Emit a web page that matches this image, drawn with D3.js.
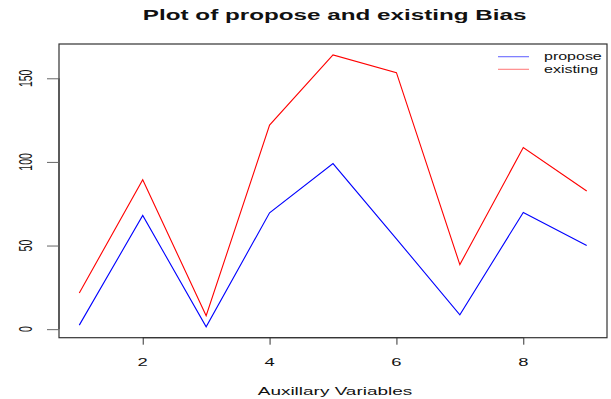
<!DOCTYPE html>
<html>
<head>
<meta charset="utf-8">
<script src="https://cdn.jsdelivr.net/npm/d3@7"></script>
<style>
  html, body { margin: 0; padding: 0; background: #fff; }
  svg { display: block; }
  text { font-family: "Liberation Sans", Arial, Helvetica, sans-serif; fill: #111; }
</style>
</head>
<body>
<svg id="chart" width="611" height="399"></svg>
<script>
// ---- data ----
const xValues = [1, 2, 3, 4, 5, 6, 7, 8, 9];
const propose = [2.4, 68, 1.4, 69.6, 99, 54, 8.6, 69.8, 50];
const existing = [21.6, 89.4, 8, 122, 164, 153.4, 38.6, 108.6, 82.6];
const xTicks = [2, 4, 6, 8];
const yTicks = [0, 50, 100, 150];
const seriesNames = ["propose", "existing"];
const seriesColors = ["#0000ff", "#ff0000"];
const legendColors = ["#6a6aff", "#ff8080"];
const titleText = "Plot of propose and existing Bias";
const xLabel = "Auxillary Variables";

// ---- layout ----
const svg = d3.select("#chart");
const box = { left: 59, right: 607, top: 44, bottom: 337.7 };
const SX = 1.65; // horizontal glyph stretch seen in reference

// R-style 4% axis extension
function pad(ext) { const d = (ext[1] - ext[0]) * 0.04; return [ext[0] - d, ext[1] + d]; }
const xDom = pad(d3.extent(xValues));
const yDom = pad(d3.extent(propose.concat(existing)));

const x = d3.scaleLinear().domain(xDom).range([box.left, box.right]);
const y = d3.scaleLinear().domain(yDom).range([box.bottom, box.top]);

function stretchedText(g, tx, ty, str, size, weight, anchor, sx) {
  return g.append("text")
    .attr("transform", `translate(${tx},${ty}) scale(${sx || SX},1)`)
    .attr("text-anchor", anchor || "middle")
    .style("font-size", size + "px")
    .style("font-weight", weight || "normal")
    .text(str);
}

// title
stretchedText(svg, 334.7, 20, titleText, 14.6, "bold", "middle", 1.66);

// series lines
const line = d3.line().x((d, i) => x(xValues[i])).y(d => y(d));
[propose, existing].forEach((s, k) => {
  svg.append("path")
    .datum(s)
    .attr("d", line)
    .attr("fill", "none")
    .attr("stroke", seriesColors[k])
    .attr("stroke-width", 1.1);
});

// plot box
svg.append("rect")
  .attr("x", box.left).attr("y", box.top)
  .attr("width", box.right - box.left).attr("height", box.bottom - box.top)
  .attr("fill", "none").attr("stroke", "#333").attr("stroke-width", 1.2);

// x axis
const xAxis = svg.append("g").attr("transform", `translate(0,${box.bottom})`);
xAxis.call(d3.axisBottom(x).tickValues(xTicks).tickSize(7).tickFormat(""));
xAxis.select(".domain").attr("d", `M${x(xTicks[0])},0H${x(xTicks[xTicks.length-1])}`).attr("stroke", "#333");
xAxis.selectAll(".tick line").attr("stroke", "#333");
xTicks.forEach(t => stretchedText(svg, x(t), 365.5, String(t), 11.5, "normal", "middle", 1.6));

// y axis
const yAxis = svg.append("g").attr("transform", `translate(${box.left},0)`);
yAxis.call(d3.axisLeft(y).tickValues(yTicks).tickSize(12).tickFormat(""));
yAxis.select(".domain").attr("d", `M0,${y(yTicks[0])}V${y(yTicks[yTicks.length-1])}`).attr("stroke", "#333");
yAxis.selectAll(".tick line").attr("stroke", "#666");
yTicks.forEach(t => {
  svg.append("text")
    .attr("transform", `translate(32,${y(t)}) scale(1.7,1) rotate(-90)`)
    .attr("text-anchor", "middle")
    .style("font-size", "10.5px")
    .text(String(t));
});

// x label
stretchedText(svg, 335, 395, xLabel, 11.5);

// legend
const legY = [56.7, 69.3];
seriesNames.forEach((n, k) => {
  svg.append("line")
    .attr("x1", 498).attr("x2", 529)
    .attr("y1", legY[k]).attr("y2", legY[k])
    .attr("stroke", legendColors[k]).attr("stroke-width", 1.1);
  stretchedText(svg, 544, legY[k] + 3.6, n, 10, "normal", "start", 1.6);
});
</script>
</body>
</html>
